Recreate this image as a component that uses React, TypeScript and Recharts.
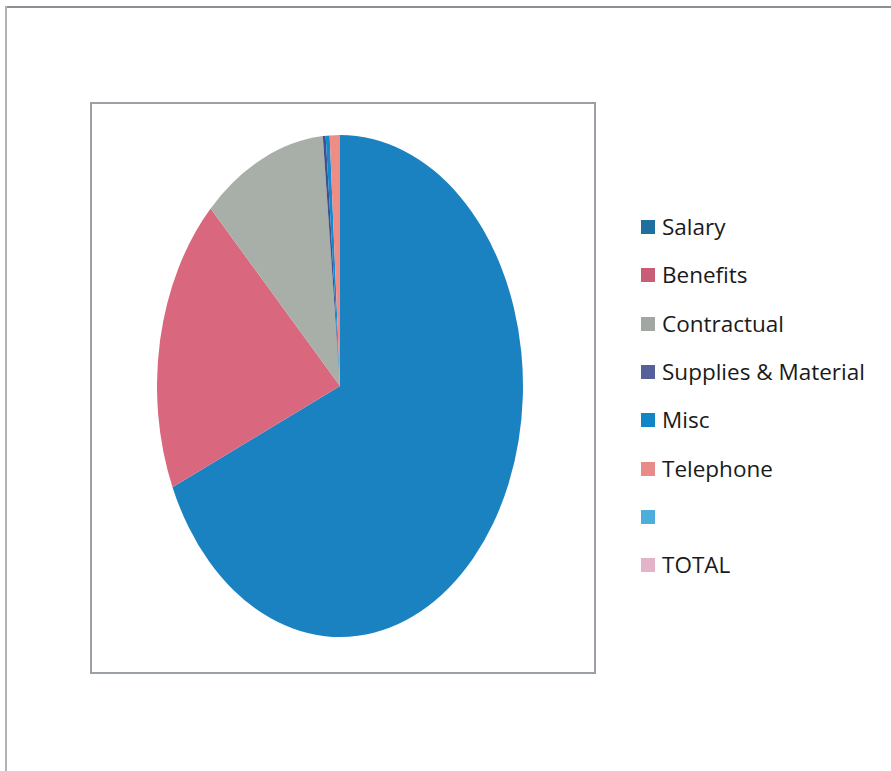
import React from 'react';
import { PieChart, Pie, Cell } from 'recharts';

const categories = ['Salary', 'Benefits', 'Contractual', 'Supplies & Material', 'Misc', 'Telephone', '', 'TOTAL'];
const shares = [68.4, 19.1, 11.0, 0.25, 0.35, 0.9, 0, 0];
const sliceColors = ['#1b82c2', '#d9687f', '#a8afa8', '#3f4f8f', '#1489cb', '#ee8d86', '#4fb0dc', '#e5b3c9'];
const legendColors = ['#1f6f9f', '#c95d75', '#a1a8a4', '#56609a', '#1285c6', '#e98b88', '#4eaedb', '#e4b2c9'];

const data = categories.map((name, i) => ({ name, value: shares[i] }));

const rx = 183;
const ry = 251;

export default function App() {
    return (
        <div style={{ position: 'absolute', left: 0, top: 0, width: 891, height: 771, background: '#fff', overflow: 'hidden' }}>
            {/* outer frame */}
            <div style={{ position: 'absolute', left: 5, top: 6, width: 886, height: 0, borderTop: '2px solid #8a8f96' }} />
            <div style={{ position: 'absolute', left: 5, top: 6, width: 0, height: 765, borderLeft: '2px solid #b0b4b8' }} />
            {/* plot area box */}
            <div style={{ position: 'absolute', left: 90, top: 102, width: 502, height: 568, border: '2px solid #9aa0a6' }} />

            <div
                style={{
                    position: 'absolute',
                    left: 340 - 200,
                    top: 386 - 200,
                    width: 400,
                    height: 400,
                    transform: `scaleY(${ry / rx})`,
                    transformOrigin: '200px 200px',
                }}
            >
                <PieChart width={400} height={400} margin={{ top: 0, right: 0, bottom: 0, left: 0 }}>
                    <Pie
                        data={data}
                        dataKey="value"
                        nameKey="name"
                        cx={200}
                        cy={200}
                        outerRadius={rx}
                        startAngle={90}
                        endAngle={-270}
                        stroke="none"
                        isAnimationActive={false}
                    >
                        {data.map((d, i) => (
                            <Cell key={i} fill={sliceColors[i]} />
                        ))}
                    </Pie>
                </PieChart>
            </div>

            {/* legend */}
            <div style={{ position: 'absolute', left: 641, top: 203, fontFamily: '"Open Sans", "Noto Sans", sans-serif', fontSize: 22.5, color: '#1a1a1a' }}>
                {categories.map((c, i) => (
                    <div key={i} style={{ display: 'flex', alignItems: 'center', height: 48.3 }}>
                        <span style={{ display: 'inline-block', width: 14, height: 14, background: legendColors[i], marginRight: 7 }} />
                        <span style={{ lineHeight: '48px' }}>{c}</span>
                    </div>
                ))}
            </div>
        </div>
    );
}
